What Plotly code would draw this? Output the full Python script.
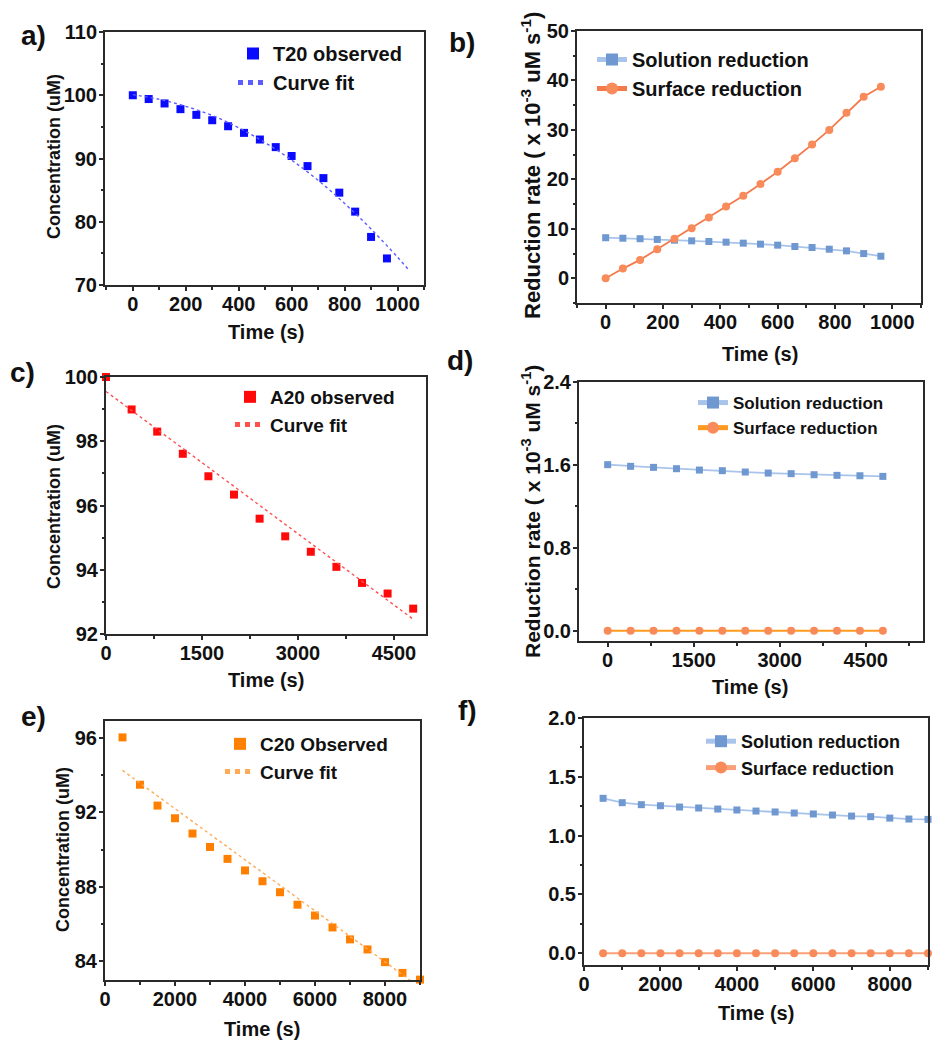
import plotly.graph_objects as go

# ---------------- data ----------------
# panel a (T20)
a_time = [0, 60, 120, 180, 240, 300, 360, 420, 480, 540, 600, 660, 720, 780, 840, 900, 960]
a_obs = [100.0, 99.4, 98.7, 97.8, 96.9, 96.05, 95.1, 94.05, 93.0, 91.8, 90.4, 88.8, 86.9, 84.6, 81.6, 77.6, 74.2]
a_fit_time = [0, 100, 200, 300, 400, 500, 600, 700, 800, 900, 1000, 1040]
a_fit = [100.1, 99.35, 98.25, 96.8, 94.85, 92.5, 89.75, 86.55, 82.9, 78.85, 74.4, 72.5]

# panel b
b_time = [0, 60, 120, 180, 240, 300, 360, 420, 480, 540, 600, 660, 720, 780, 840, 900, 960]
b_solution = [8.2, 8.1, 8.0, 7.85, 7.7, 7.57, 7.43, 7.3, 7.1, 6.9, 6.7, 6.42, 6.22, 5.88, 5.54, 5.0, 4.46]
b_surface = [0.0, 1.96, 3.72, 5.88, 7.97, 10.14, 12.3, 14.53, 16.69, 19.05, 21.55, 24.26, 27.03, 30.0, 33.45, 36.69, 38.72]

# panel c (A20)
c_time = [0, 400, 800, 1200, 1600, 2000, 2400, 2800, 3200, 3600, 4000, 4400, 4800]
c_obs = [100.0, 98.99, 98.30, 97.61, 96.91, 96.34, 95.59, 95.04, 94.56, 94.09, 93.59, 93.26, 92.79]
c_fit_time = [0, 4800]
c_fit = [99.55, 92.46]

# panel d
d_time = [0, 400, 800, 1200, 1600, 2000, 2400, 2800, 3200, 3600, 4000, 4400, 4800]
d_solution = [1.602, 1.586, 1.576, 1.563, 1.550, 1.544, 1.531, 1.521, 1.515, 1.505, 1.499, 1.495, 1.489]
d_surface = [0, 0, 0, 0, 0, 0, 0, 0, 0, 0, 0, 0, 0]

# panel e (C20)
e_time = [500, 1000, 1500, 2000, 2500, 3000, 3500, 4000, 4500, 5000, 5500, 6000, 6500, 7000, 7500, 8000, 8500, 9000]
e_obs = [96.02, 93.48, 92.36, 91.68, 90.86, 90.14, 89.5, 88.88, 88.3, 87.71, 87.04, 86.46, 85.82, 85.18, 84.64, 83.96, 83.38, 83.02]
e_fit_time = [500, 9000]
e_fit = [94.25, 82.6]

# panel f
f_time = [500, 1000, 1500, 2000, 2500, 3000, 3500, 4000, 4500, 5000, 5500, 6000, 6500, 7000, 7500, 8000, 8500, 9000]
f_solution = [1.317, 1.280, 1.263, 1.254, 1.243, 1.235, 1.226, 1.218, 1.209, 1.201, 1.192, 1.184, 1.175, 1.166, 1.161, 1.149, 1.141, 1.138]
f_surface = [0] * 18

panel_letters = ["a)", "b)", "c)", "d)", "e)", "f)"]
x_title = "Time (s)"
ytitle_conc = "Concentration (uM)"
ytitle_rate = "Reduction rate ( x 10<sup>-3</sup> uM s<sup>-1</sup>)"

# ---------------- styling ----------------
FONT = "Liberation Sans, Arial, sans-serif"
W, H = 944, 1050
SOL_LINE = "#a9c4eb"
SOL_MARK = "#6f97d0"
SUR_MARK = "#f98b5b"
INK = "#111"

def xd(l, r):
    return [l / W, r / W]

def yd(t, b):
    return [1 - b / H, 1 - t / H]

# pixel frames (left, right, top, bottom)
frames = {
    1: (105, 424, 32, 285),
    2: (577, 921, 31, 303),
    3: (106, 426, 377, 634),
    4: (579, 923, 382, 641),
    5: (105, 420, 721, 980),
    6: (584, 928, 718, 965),
}

fig = go.Figure()

def add(trace, n):
    trace.update(xaxis="x" if n == 1 else f"x{n}", yaxis="y" if n == 1 else f"y{n}",
                 legend="legend" if n == 1 else f"legend{n}")
    fig.add_trace(trace)

# a
add(go.Scatter(x=a_time, y=a_obs, mode="markers", name="T20 observed",
               marker=dict(symbol="square", size=8, color="#0a0aff")), 1)
add(go.Scatter(x=a_fit_time, y=a_fit, mode="lines", name="Curve fit", line_shape="spline",
               line=dict(color="#5c5cff", width=1.4, dash="dot")), 1)
# b
add(go.Scatter(x=b_time, y=b_solution, mode="lines+markers", name="Solution reduction",
               line=dict(color=SOL_LINE, width=1.8), marker=dict(symbol="square", size=7, color=SOL_MARK)), 2)
add(go.Scatter(x=b_time, y=b_surface, mode="lines+markers", name="Surface reduction",
               line=dict(color="#f47a4c", width=1.8), marker=dict(symbol="circle", size=8, color=SUR_MARK)), 2)
# c
add(go.Scatter(x=c_time, y=c_obs, mode="markers", name="A20 observed", cliponaxis=False,
               marker=dict(symbol="square", size=8, color="#ff0a0a")), 3)
add(go.Scatter(x=c_fit_time, y=c_fit, mode="lines", name="Curve fit",
               line=dict(color="#ff5050", width=1.4, dash="dot")), 3)
# d
add(go.Scatter(x=d_time, y=d_solution, mode="lines+markers", name="Solution reduction",
               line=dict(color=SOL_LINE, width=1.8), marker=dict(symbol="square", size=7, color=SOL_MARK)), 4)
add(go.Scatter(x=d_time, y=d_surface, mode="lines+markers", name="Surface reduction",
               line=dict(color="#ff9a1f", width=2), marker=dict(symbol="circle", size=8, color=SUR_MARK)), 4)
# e
add(go.Scatter(x=e_time, y=e_obs, mode="markers", name="C20 Observed", cliponaxis=False,
               marker=dict(symbol="square", size=8, color="#ff8000")), 5)
add(go.Scatter(x=e_fit_time, y=e_fit, mode="lines", name="Curve fit",
               line=dict(color="#ffab55", width=1.4, dash="dot")), 5)
# f
add(go.Scatter(x=f_time, y=f_solution, mode="lines+markers", name="Solution reduction", cliponaxis=False,
               line=dict(color=SOL_LINE, width=1.8), marker=dict(symbol="square", size=7, color=SOL_MARK)), 6)
add(go.Scatter(x=f_time, y=f_surface, mode="lines+markers", name="Surface reduction", cliponaxis=False,
               line=dict(color="#f9a07a", width=1.8), marker=dict(symbol="circle", size=8, color=SUR_MARK)), 6)

axis_common = dict(showline=True, linecolor="#2a2a2a", linewidth=2, mirror=True,
                   ticks="outside", ticklen=4, tickwidth=2, tickcolor="#2a2a2a",
                   showgrid=False, zeroline=False, automargin=False,
                   tickfont=dict(family=FONT, size=20, color=INK, weight="bold"))

xcfg = {
    1: dict(range=[-105, 1100], dtick=200, tick0=0, minor=100),
    2: dict(range=[-100, 1100], dtick=200, tick0=0, minor=100),
    3: dict(range=[0, 5000], dtick=1500, tick0=0, minor=750),
    4: dict(range=[-500, 5500], dtick=1500, tick0=0, minor=750),
    5: dict(range=[0, 9000], dtick=2000, tick0=0, minor=1000),
    6: dict(range=[0, 9000], dtick=2000, tick0=0, minor=1000),
}
ycfg = {
    1: dict(range=[70, 110], dtick=10, tick0=70, minor=5),
    2: dict(range=[-5, 50], dtick=10, tick0=0, minor=5),
    3: dict(range=[92, 100], dtick=2, tick0=92, minor=1),
    4: dict(range=[-0.1, 2.4], dtick=0.8, tick0=0, minor=0.4, tickformat=".1f"),
    5: dict(range=[83.0, 96.9], dtick=4, tick0=84, minor=2),
    6: dict(range=[-0.1, 2.0], dtick=0.5, tick0=0, minor=0.25, tickformat=".1f"),
}

layout = dict(width=W, height=H, margin=dict(l=0, r=0, t=0, b=0),
              paper_bgcolor="white", plot_bgcolor="white",
              font=dict(family=FONT, size=19, color=INK))

for n in range(1, 7):
    l, r, t, b = frames[n]
    xc = dict(xcfg[n]); yc = dict(ycfg[n])
    xminor = xc.pop("minor"); yminor = yc.pop("minor")
    xname = "xaxis" if n == 1 else f"xaxis{n}"
    yname = "yaxis" if n == 1 else f"yaxis{n}"
    layout[xname] = dict(axis_common, domain=xd(l, r), anchor="y" if n == 1 else f"y{n}",
                         ticklabelstandoff=-4,
                         minor=dict(ticks="outside", ticklen=2.5, tickwidth=1.5, tickcolor="#2a2a2a",
                                    dtick=xminor, tick0=0), **xc)
    layout[yname] = dict(axis_common, domain=yd(t, b), anchor="x" if n == 1 else f"x{n}",
                         ticklabelstandoff=-2,
                         minor=dict(ticks="outside", ticklen=2.5, tickwidth=1.5, tickcolor="#2a2a2a",
                                    dtick=yminor, tick0=0), **yc)

# legends (pixel positions of top-left)
leg_pos = {1: (233, 34, 20), 2: (592, 40, 20), 3: (230, 378, 19), 4: (693, 385, 17),
           5: (220, 725, 19), 6: (701, 723, 18)}
for n, (px, py, fs) in leg_pos.items():
    name = "legend" if n == 1 else f"legend{n}"
    layout[name] = dict(x=px / W, y=1 - py / H, xanchor="left", yanchor="top",
                        bgcolor="rgba(0,0,0,0)", borderwidth=0, tracegroupgap=0,
                        itemwidth=30, itemsizing="constant",
                        font=dict(family=FONT, size=fs, color=INK, weight="bold"))

fig.update_layout(**layout)

def text_at(txt, px, py, size, angle=0):
    fig.add_annotation(text=f"<b>{txt}</b>", x=px / W, y=1 - py / H, xref="paper", yref="paper",
                       xanchor="center", yanchor="middle", showarrow=False, textangle=angle,
                       font=dict(family=FONT, size=size, color=INK))

# panel letters
letter_pos = [(33, 36), (462, 42), (22, 372), (460, 360), (33, 716), (467, 710)]
for txt, (px, py) in zip(panel_letters, letter_pos):
    text_at(txt, px, py, 28)

# x-axis titles
for (px, py) in [(266, 332), (760, 354), (266, 680), (750, 687), (262, 1029), (756, 1013)]:
    text_at(x_title, px, py, 20)

# y-axis titles
text_at(ytitle_conc, 54, 157, 18, -90)
text_at(ytitle_rate, 531, 166, 22, -90)
text_at(ytitle_conc, 54, 507, 18, -90)
text_at(ytitle_rate, 531, 512, 21, -90)
text_at(ytitle_conc, 63, 850, 18, -90)

fig.write_html("out.html", config={"displayModeBar": False},
               post_script="document.body.style.margin='0';")
